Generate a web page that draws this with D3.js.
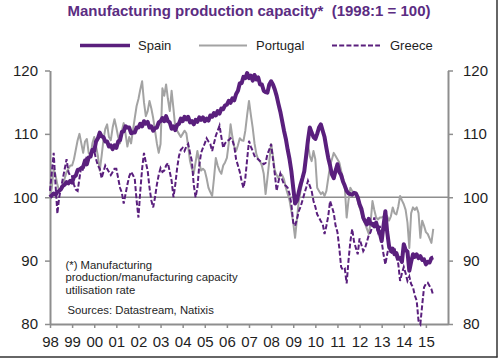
<!DOCTYPE html>
<html><head><meta charset="utf-8">
<script src="https://cdn.jsdelivr.net/npm/d3@7"></script>
<style>
html,body{margin:0;padding:0;background:#fff;}
svg{display:block;font-family:"Liberation Sans",Arial,sans-serif;}
</style></head>
<body><svg id="c" width="500" height="359"></svg>
<script>
// Monthly values, Jan 1998 .. May 2015 (index 1998:1 = 100)
const spain = [
100.0,100.3,100.6,100.4,100.8,101.0,101.3,101.8,102.0,102.4,102.2,102.6,
102.3,103.2,103.4,104.3,104.4,104.6,104.8,105.8,105.2,106.3,106.4,107.5,
107.3,108.8,109.3,110.2,109.6,109.5,108.8,108.8,108.0,108.2,107.6,108.2,
107.8,108.8,109.0,110.3,110.4,111.2,111.0,111.0,110.1,110.2,110.2,111.0,
111.0,111.6,111.2,112.0,111.6,111.9,111.0,111.2,110.5,110.9,111.0,111.8,
112.0,112.5,112.0,112.8,112.0,111.8,110.8,111.2,110.6,111.4,111.6,112.4,
112.0,112.7,112.3,112.7,111.8,112.0,111.5,112.2,111.9,112.6,112.2,112.6,
112.0,112.4,112.1,112.9,112.7,113.3,112.9,113.6,113.2,114.0,113.9,114.5,
114.6,115.2,114.9,115.6,115.3,116.3,116.8,118.0,118.0,119.0,118.8,119.6,
118.8,119.2,118.4,119.3,118.6,118.9,117.8,117.8,116.8,116.6,116.5,117.8,
118.3,117.8,117.0,116.0,114.7,113.5,112.0,110.5,109.2,107.5,106.0,104.1,
101.5,99.0,99.5,100.8,102.0,103.0,104.1,106.5,109.0,111.0,110.2,109.5,
109.2,110.0,111.0,111.5,110.5,109.5,107.8,106.2,105.0,103.6,103.0,104.2,
105.2,104.0,103.5,102.5,101.8,101.0,100.6,100.5,100.4,100.7,100.6,100.0,
98.9,98.2,96.8,96.2,95.7,96.6,95.8,95.8,95.4,96.0,95.0,94.3,
93.1,95.5,97.8,94.5,92.3,91.6,91.9,91.0,91.2,90.3,90.4,89.8,
92.6,91.7,91.4,88.4,89.8,91.0,90.6,91.0,90.4,90.7,90.1,90.2,
89.4,89.8,89.7,90.4,90.5
];
const portugal = [
100.0,101.5,104.5,103.5,102.0,101.0,101.3,102.0,103.0,104.0,104.5,105.0,
105.0,106.0,107.5,109.0,110.0,108.5,107.0,108.8,109.2,107.0,106.5,108.5,
109.5,108.0,106.5,104.2,106.5,109.0,110.8,111.5,109.5,109.0,111.0,112.3,
111.0,109.5,108.5,110.5,111.7,110.0,108.0,109.5,108.5,110.5,112.5,114.4,
115.5,117.0,118.3,115.0,112.8,113.6,115.2,114.0,112.5,110.5,108.5,107.0,
108.4,117.2,116.0,117.8,115.5,113.6,116.8,114.0,111.0,110.5,110.0,109.5,
110.0,110.5,110.1,108.0,105.7,104.5,103.7,105.5,107.3,105.5,104.2,104.5,
104.2,103.0,101.5,100.8,100.2,103.0,106.2,105.0,104.2,103.7,105.0,105.5,
106.2,108.5,111.5,109.5,108.0,107.3,108.2,109.3,109.0,108.9,110.5,113.0,
115.2,113.0,111.0,108.5,106.8,106.0,105.7,105.0,103.7,100.5,103.0,105.7,
108.4,106.5,104.2,103.5,103.0,103.7,103.5,102.8,101.5,100.5,99.5,97.8,
96.0,93.6,96.5,99.4,101.0,102.5,104.2,106.0,108.4,106.5,105.7,107.3,
106.0,101.5,101.0,100.5,100.8,100.2,101.0,103.0,105.0,106.0,107.0,106.5,
106.0,105.5,104.2,103.0,101.5,96.8,99.5,101.5,101.0,100.5,100.7,99.5,
98.4,97.5,96.5,95.8,95.0,94.2,96.0,99.4,98.0,96.8,96.5,96.8,
96.8,97.0,97.3,97.0,96.3,97.0,98.4,97.5,97.3,98.5,100.2,99.5,
98.9,98.0,96.0,92.0,97.5,98.4,98.0,98.4,97.5,93.6,96.3,95.5,
94.5,94.2,93.5,92.8,95.0
];
const greece = [
101.0,104.0,107.0,102.0,97.4,100.0,101.5,103.0,104.5,106.0,104.0,103.3,
103.3,102.0,101.2,101.0,103.0,105.0,104.2,105.5,106.5,106.0,107.0,107.3,
107.3,106.0,105.0,104.5,103.0,104.0,105.0,104.5,104.0,103.5,104.0,104.5,
104.5,103.0,101.5,100.7,99.0,100.5,102.0,103.3,104.0,103.5,102.9,99.5,
96.8,101.0,104.5,107.0,105.5,104.2,101.5,99.5,98.4,100.0,102.0,103.5,
104.6,104.0,104.2,105.0,105.4,104.0,102.6,100.0,102.0,104.6,106.5,107.5,
107.8,107.3,108.0,108.4,107.0,105.7,102.0,100.0,101.5,105.0,107.0,107.8,
108.5,109.3,108.8,108.4,107.3,108.5,109.7,110.5,111.3,109.5,107.8,108.5,
108.9,109.0,109.3,109.0,108.0,106.0,105.0,104.0,102.5,101.5,103.0,106.0,
108.9,108.0,107.3,106.5,106.2,106.0,105.7,105.5,105.2,105.4,106.8,107.5,
108.4,106.0,103.7,101.0,102.5,103.7,102.8,102.0,101.8,101.5,100.5,98.9,
96.0,95.5,96.5,97.8,98.5,99.5,100.5,101.5,102.6,101.8,101.0,99.4,
98.5,97.3,96.8,96.2,95.8,94.2,95.5,97.0,99.4,98.5,97.5,95.5,
94.5,92.0,89.0,88.5,88.7,86.4,90.0,93.0,95.0,93.0,92.0,91.0,
93.5,92.5,91.5,92.0,93.0,94.0,94.5,95.5,96.8,95.5,94.5,95.5,
93.0,91.0,89.4,91.0,92.5,91.0,91.5,92.0,90.5,89.5,86.8,88.0,
89.0,88.0,86.8,87.5,86.3,85.8,84.5,83.7,80.5,80.0,83.0,85.8,
86.3,86.5,86.0,85.5,84.5
];
const startYear = 1998;
const yearTicks = d3.range(1998, 2016);
const yTicks = [80, 90, 100, 110, 120];
const seriesNames = ["Spain", "Portugal", "Greece"];
const titleText = "Manufacturing production capacity*\u00a0\u00a0(1998:1 = 100)";
const noteLines = ["(*) Manufacturing", "production/manufacturing capacity", "utilisation rate"];
const sourceText = "Sources: Datastream, Natixis";

const purple = "#5a1f7d", grey = "#a3a3a3", axisC = "#8e8e8e", txt = "#1e1e1e";
const svg = d3.select("#c");
const L = 50, R = 448, T = 70.5, B = 324;
const x = d3.scaleLinear().domain([1998, 2016]).range([L, R]);
const y = d3.scaleLinear().domain([80, 120]).range([B, T]);

// frame (right / bottom)
svg.append("line").attr("x1",497).attr("x2",497).attr("y1",0).attr("y2",357.5).attr("stroke","#333").attr("stroke-width",1.5);
svg.append("line").attr("x1",0).attr("x2",497.5).attr("y1",357).attr("y2",357).attr("stroke","#333").attr("stroke-width",1.5);

// title
svg.append("text").attr("x",249).attr("y",16).attr("text-anchor","middle")
  .attr("font-size",15).attr("font-weight","bold").attr("fill","#5b2c82").text(titleText);

// legend
const leg = [
  {name:seriesNames[0], x1:80, x2:130, tx:138, stroke:purple, w:3.5, dash:null},
  {name:seriesNames[1], x1:199, x2:247, tx:256, stroke:grey, w:2, dash:null},
  {name:seriesNames[2], x1:332, x2:380, tx:390, stroke:purple, w:2, dash:"5,2.2"}
];
leg.forEach(d=>{
  svg.append("line").attr("x1",d.x1).attr("x2",d.x2).attr("y1",45.5).attr("y2",45.5)
    .attr("stroke",d.stroke).attr("stroke-width",d.w).attr("stroke-dasharray",d.dash);
  svg.append("text").attr("x",d.tx).attr("y",50).attr("font-size",13).attr("fill",txt).text(d.name);
});

// 100 reference line
svg.append("line").attr("x1",L).attr("x2",R).attr("y1",y(100)).attr("y2",y(100))
  .attr("stroke",axisC).attr("stroke-width",1.6);

// axes
function styleAxis(g){
  g.select(".domain").attr("stroke",axisC).attr("stroke-width",2);
  g.selectAll(".tick line").attr("stroke",axisC).attr("stroke-width",1.5);
  g.selectAll(".tick text").attr("fill",txt).attr("font-size",15).attr("font-family","'Liberation Sans',Arial,sans-serif");
}
svg.append("g").attr("transform",`translate(${L},0)`)
  .call(d3.axisLeft(y).tickValues(yTicks).tickSize(5).tickPadding(7).tickSizeOuter(0))
  .call(styleAxis);
svg.append("g").attr("transform",`translate(${R},0)`)
  .call(d3.axisRight(y).tickValues(yTicks).tickSize(5).tickPadding(10).tickSizeOuter(0))
  .call(styleAxis);
svg.append("g").attr("transform",`translate(0,${B})`)
  .call(d3.axisBottom(x).tickValues(yearTicks).tickSize(4).tickPadding(8).tickSizeOuter(0)
    .tickFormat(d=>String(d%100).padStart(2,"0")))
  .call(styleAxis);

// series
const line = d3.line().x((d,i)=>x(startYear + i/12)).y(d=>y(d)).curve(d3.curveLinear);
svg.append("path").datum(portugal).attr("d",line).attr("fill","none")
  .attr("stroke",grey).attr("stroke-width",2).attr("stroke-linejoin","round");
svg.append("path").datum(greece).attr("d",line).attr("fill","none")
  .attr("stroke",purple).attr("stroke-width",2).attr("stroke-dasharray","5,2.2");
svg.append("path").datum(spain).attr("d",line).attr("fill","none")
  .attr("stroke",purple).attr("stroke-width",4).attr("stroke-linejoin","round");

// notes
noteLines.forEach((t,i)=>{
  svg.append("text").attr("x",65.5).attr("y",269+i*12.4).attr("font-size",11.3).attr("fill",txt).text(t);
});
svg.append("text").attr("x",67.5).attr("y",313.5).attr("font-size",11.3).attr("fill",txt).text(sourceText);
</script>
</body></html>
